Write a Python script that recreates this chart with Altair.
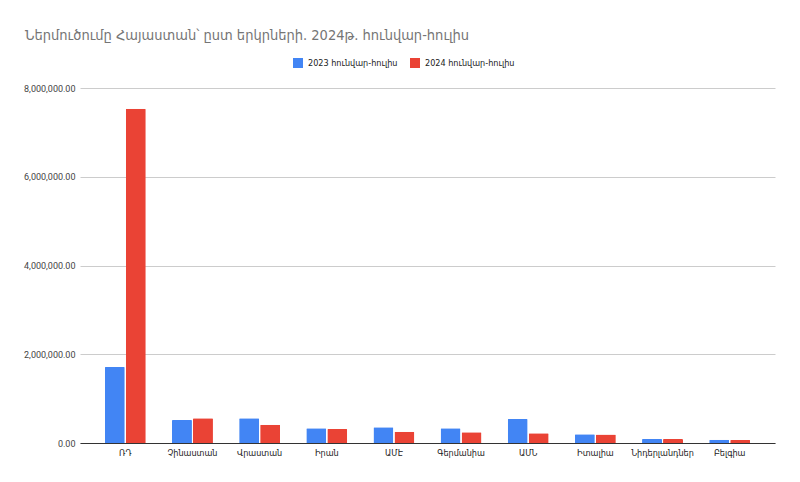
import altair as alt
import pandas as pd

countries = ["ՌԴ", "Չինաստան", "Վրաստան", "Իրան", "ԱՄԷ", "Գերմանիա", "ԱՄՆ", "Իտալիա", "Նիդերլանդներ", "Բելգիա"]
values_2023 = [1710000, 520000, 556000, 330000, 354000, 330000, 540000, 195000, 90000, 75000]
values_2024 = [7530000, 556000, 410000, 315000, 255000, 240000, 220000, 190000, 90000, 70000]
series = ["2023 հունվար-հուլիս", "2024 հունվար-հուլիս"]

rows = []
for c, a, b in zip(countries, values_2023, values_2024):
    rows.append({"country": c, "series": series[0], "value": a})
    rows.append({"country": c, "series": series[1], "value": b})
df = pd.DataFrame(rows)

FONT = "Roboto, DejaVu Sans, sans-serif"
CFONT = "DejaVu Sans Condensed, DejaVu Sans, sans-serif"

chart = alt.Chart(df).mark_bar(cornerRadiusTopLeft=1, cornerRadiusTopRight=1).encode(
    x=alt.X("country:N", sort=countries, title=None,
            scale=alt.Scale(paddingInner=0.39, paddingOuter=0.37),
            axis=alt.Axis(labelAngle=0, labelFontSize=9, labelColor="#222222", labelPadding=5,
                          ticks=False, domainColor="#333333", domainWidth=1, labelFont=CFONT)),
    xOffset=alt.XOffset("series:N", sort=series, scale=alt.Scale(paddingInner=0.05)),
    y=alt.Y("value:Q", title=None,
            scale=alt.Scale(domain=[0, 8000000], nice=False),
            axis=alt.Axis(values=[0, 2000000, 4000000, 6000000, 8000000], format=",.2f",
                          labelFontSize=9, labelColor="#444444", labelPadding=5,
                          ticks=False, domain=False, gridColor="#cccccc", labelFont=FONT)),
    color=alt.Color("series:N", sort=series,
                    scale=alt.Scale(domain=series, range=["#4285F4", "#EA4335"]),
                    legend=alt.Legend(title=None, orient="none", legendX=213, legendY=-30,
                                      direction="horizontal", symbolType="square", symbolSize=100,
                                      symbolStrokeWidth=0, labelFontSize=9, labelColor="#222222",
                                      labelFont=CFONT, columnPadding=12, labelOffset=5)),
).properties(
    width=695, height=355,
    padding={"left": 80, "top": 88, "right": 25, "bottom": 39},
    autosize=alt.AutoSizeParams(type="none"),
    title=alt.TitleParams("Ներմուծումը Հայաստան՝ ըստ երկրների. 2024թ. հունվար-հուլիս",
                          anchor="start", frame="group", fontSize=14.5, font=CFONT,
                          fontWeight="normal", color="#757575", dx=-55, offset=15),
).configure_view(stroke=None)

chart.save("out.html", embed_options={"renderer": "svg", "actions": False})
